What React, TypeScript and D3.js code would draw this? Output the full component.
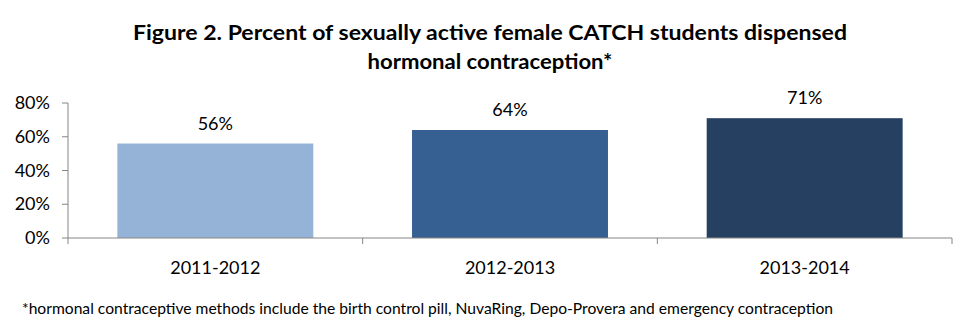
import React from "react";
import * as d3 from "d3";

const categories = ["2011-2012", "2012-2013", "2013-2014"];
const values = [56, 64, 71];
const barColors = ["#95B3D7", "#376092", "#254061"];
const yTicks = [0, 20, 40, 60, 80];
const titleLines = [
  "Figure 2. Percent of sexually active female CATCH students dispensed",
  "hormonal contraception*",
];
const footnote =
  "*hormonal contraceptive methods include the birth control pill, NuvaRing, Depo-Provera and emergency contraception";

const W = 975;
const H = 330;
const FONT = "Lato, 'Open Sans', 'DejaVu Sans', sans-serif";

export default function App() {
  const x0 = 68;
  const x1 = 952;
  const y0 = 238;
  const yTop = 103;
  const x = d3.scaleBand<string>().domain(categories).range([x0, x1]).paddingInner(0.335).paddingOuter(0.1675);
  const xc = d3.scaleBand<string>().domain(categories).range([x0, x1]);
  const y = d3.scaleLinear().domain([0, 80]).range([y0, yTop]);
  const axisColor = "#868686";
  const catTicks = [x0, ...categories.map((c) => (xc(c) as number) + xc.bandwidth())];

  return (
    <svg
      width={W}
      height={H}
      style={{ position: "absolute", left: 0, top: 0, background: "#fff" }}
      fontFamily={FONT}
    >
      <rect x={0} y={0} width={W} height={H} fill="#fff" />
      {titleLines.map((t, i) => (
        <text
          key={i}
          x={490}
          y={40 + i * 29}
          textAnchor="middle"
          fontSize={20}
          fontWeight="bold"
          fill="#000"
          textLength={i === 0 ? 714 : 245}
          lengthAdjust="spacingAndGlyphs"
        >
          {t}
        </text>
      ))}
      {/* y axis */}
      <line x1={x0} x2={x0} y1={yTop} y2={y0} stroke={axisColor} strokeWidth={1} />
      {yTicks.map((t) => (
        <g key={t}>
          <line x1={x0 - 6} x2={x0} y1={y(t)} y2={y(t)} stroke={axisColor} />
          <text x={50} y={y(t) + 6} textAnchor="end" fontSize={18} fill="#000">
            {t}%
          </text>
        </g>
      ))}
      {/* bars */}
      {categories.map((c, i) => (
        <g key={c}>
          <rect
            x={x(c)}
            y={y(values[i])}
            width={x.bandwidth()}
            height={y0 - y(values[i])}
            fill={barColors[i]}
          />
          <text
            x={(x(c) as number) + x.bandwidth() / 2}
            y={y(values[i]) - 14}
            textAnchor="middle"
            fontSize={18}
            fill="#000"
          >
            {values[i]}%
          </text>
          <text
            x={(xc(c) as number) + xc.bandwidth() / 2}
            y={274}
            textAnchor="middle"
            fontSize={18}
            fill="#000"
          >
            {c}
          </text>
        </g>
      ))}
      {/* x axis */}
      <line x1={x0} x2={x1} y1={y0} y2={y0} stroke={axisColor} />
      {catTicks.map((t, i) => (
        <line key={i} x1={t} x2={t} y1={y0} y2={y0 + 6} stroke={axisColor} />
      ))}
      <text
        x={22}
        y={314}
        fontSize={15}
        fill="#000"
        textLength={811}
        lengthAdjust="spacingAndGlyphs"
      >
        {footnote}
      </text>
    </svg>
  );
}
